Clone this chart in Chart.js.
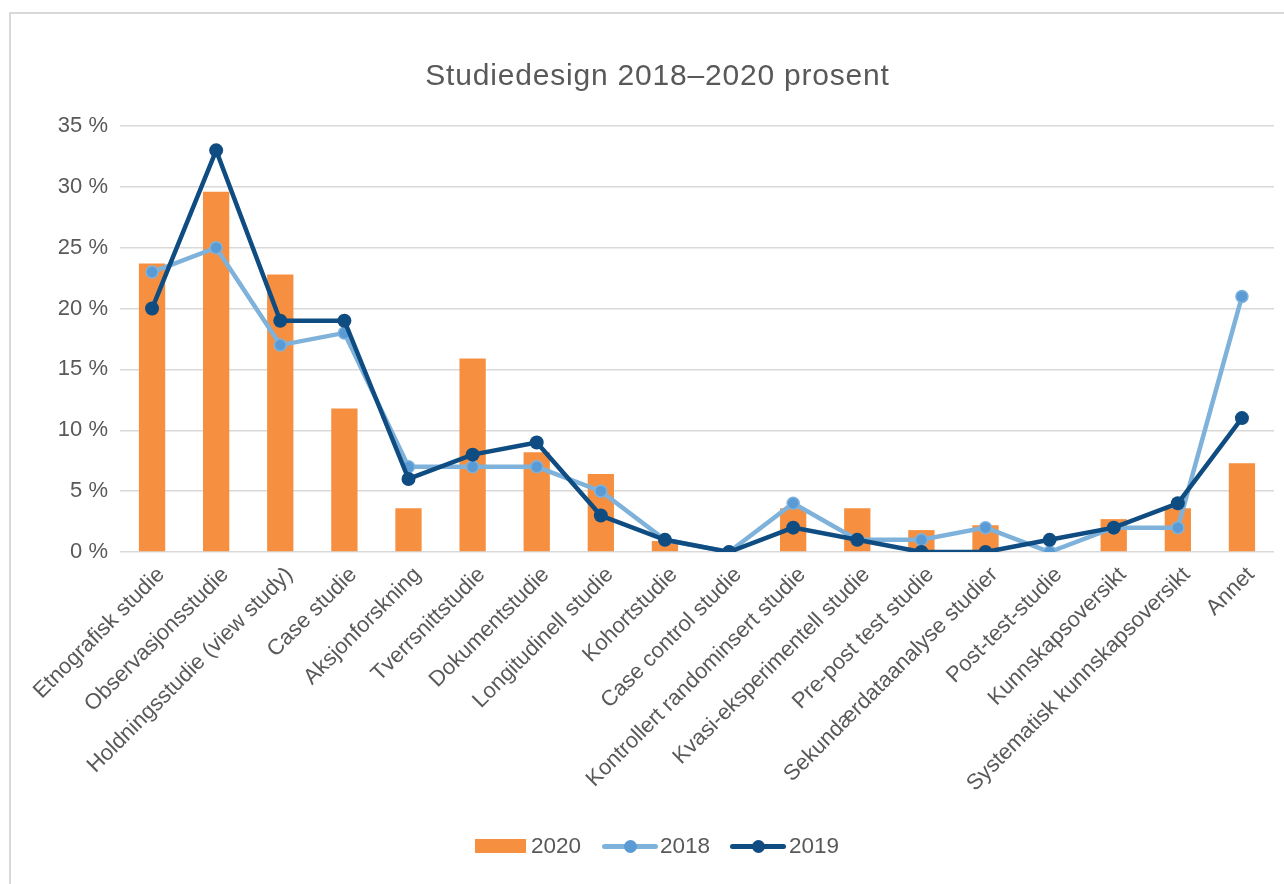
<!DOCTYPE html>
<html>
<head>
<meta charset="utf-8">
<script src="https://cdn.jsdelivr.net/npm/chart.js@4"></script>
<style>
  html, body { margin: 0; padding: 0; background: #fff; overflow: hidden; }
  #wrap { position: relative; width: 1284px; height: 884px; }
  #frame { position: absolute; left: 9px; top: 12px; width: 1400px; height: 1000px; border-left: 2px solid #d9d9d9; border-top: 2px solid #d9d9d9; }
  canvas { position: absolute; left: 0; top: 0; }
  #title { position: absolute; left: 0; width: 1315px; top: 60px; text-align: center; font-family: "Liberation Sans", Arial, sans-serif; font-size: 30px; line-height: 30px; letter-spacing: 0.8px; color: #595959; white-space: nowrap; }
  .lg { position: absolute; font-family: "Liberation Sans", Arial, sans-serif; font-size: 22.5px; color: #595959; line-height: 22px; }
</style>
</head>
<body>
<div id="wrap">
  <div id="frame"></div>
  <canvas id="c" width="1284" height="884"></canvas>
  <div id="title"></div>
  <div id="legend"></div>
</div>
<script>
const chartTitle = "Studiedesign 2018–2020 prosent";
const categories = [
  "Etnografisk studie", "Observasjonsstudie", "Holdningsstudie (view study)", "Case studie",
  "Aksjonforskning", "Tverrsnittstudie", "Dokumentstudie", "Longitudinell studie",
  "Kohortstudie", "Case control studie", "Kontrollert randominsert studie",
  "Kvasi-eksperimentell studie", "Pre-post test studie", "Sekundærdataanalyse studier",
  "Post-test-studie", "Kunnskapsoversikt", "Systematisk kunnskapsoversikt", "Annet"
];
const values2020 = [23.7, 29.6, 22.8, 11.8, 3.6, 15.9, 8.2, 6.4, 0.9, 0, 3.6, 3.6, 1.8, 2.2, 0, 2.7, 3.6, 7.3];
const values2018 = [23, 25, 17, 18, 7, 7, 7, 5, 1, 0, 4, 1, 1, 2, 0, 2, 2, 21];
const values2019 = [20, 33, 19, 19, 6, 8, 9, 3, 1, 0, 2, 1, 0, 0, 1, 2, 4, 11];
const seriesNames = ["2020", "2018", "2019"];
const yTicks = [0, 5, 10, 15, 20, 25, 30, 35];

const FONT = "'Liberation Sans', Arial, sans-serif";
const GREY = "#595959";
const ORANGE = "#F68F3F";
const LIGHT = "#7EB2DA";
const LIGHT_PT = "#5B9BD5";
const DARK = "#0F4C81";

document.getElementById('title').textContent = chartTitle;

new Chart(document.getElementById('c'), {
  data: {
    labels: categories,
    datasets: [
      { type: 'bar', label: seriesNames[0], data: values2020, backgroundColor: ORANGE,
        barPercentage: 0.41, categoryPercentage: 1.0, order: 2 },
      { type: 'line', label: seriesNames[1], data: values2018, borderColor: LIGHT, borderWidth: 4.5,
        pointRadius: 6, pointBackgroundColor: LIGHT_PT, pointBorderColor: LIGHT, pointBorderWidth: 1.5,
        tension: 0, order: 1 },
      { type: 'line', label: seriesNames[2], data: values2019, borderColor: DARK, borderWidth: 4.5,
        pointRadius: 7, pointBackgroundColor: DARK, pointBorderColor: DARK, pointBorderWidth: 0,
        tension: 0, order: 0 }
    ]
  },
  options: {
    responsive: false,
    animation: false,
    layout: { padding: { left: 0, right: 10, top: 126, bottom: 0 } },
    plugins: {
      legend: { display: false },
      tooltip: { enabled: false },
      title: { display: false }
    },
    scales: {
      x: {
        grid: { display: false, drawTicks: false },
        border: { display: false },
        ticks: {
          color: GREY, font: { family: FONT, size: 22 },
          minRotation: 45, maxRotation: 45, autoSkip: false, padding: 10, labelOffset: 9
        },
        afterFit: s => { s.height = 332; }
      },
      y: {
        min: 0, max: 35,
        grid: { color: '#d9d9d9', lineWidth: 1.5, drawTicks: false },
        border: { display: false },
        afterBuildTicks: s => { s.ticks = yTicks.map(v => ({ value: v })); },
        ticks: {
          color: GREY, font: { family: FONT, size: 22 }, padding: 12,
          callback: v => v + ' %'
        },
        afterFit: s => { s.width = 120; }
      }
    }
  }
});

// HTML legend
const lg = document.getElementById('legend');
const items = [
  { name: seriesNames[0], kind: 'bar', x: 475, tx: 531 },
  { name: seriesNames[1], kind: 'line', color: LIGHT, pt: LIGHT_PT, x: 602, tx: 660 },
  { name: seriesNames[2], kind: 'line', color: DARK, pt: DARK, x: 730, tx: 789 }
];
const cy = 846;
items.forEach(it => {
  if (it.kind === 'bar') {
    const b = document.createElement('div');
    b.style.cssText = `position:absolute;left:${it.x}px;top:${cy-7}px;width:51px;height:14px;background:${ORANGE}`;
    lg.appendChild(b);
  } else {
    const l = document.createElement('div');
    l.style.cssText = `position:absolute;left:${it.x}px;top:${cy-2.5}px;width:56px;height:5px;border-radius:3px;background:${it.color}`;
    lg.appendChild(l);
    const p = document.createElement('div');
    p.style.cssText = `position:absolute;left:${it.x+28-6.5}px;top:${cy-6.5}px;width:13px;height:13px;border-radius:50%;background:${it.pt}`;
    lg.appendChild(p);
  }
  const t = document.createElement('div');
  t.className = 'lg';
  t.textContent = it.name;
  t.style.left = it.tx + 'px';
  t.style.top = (cy - 11) + 'px';
  lg.appendChild(t);
});
</script>
</body>
</html>
